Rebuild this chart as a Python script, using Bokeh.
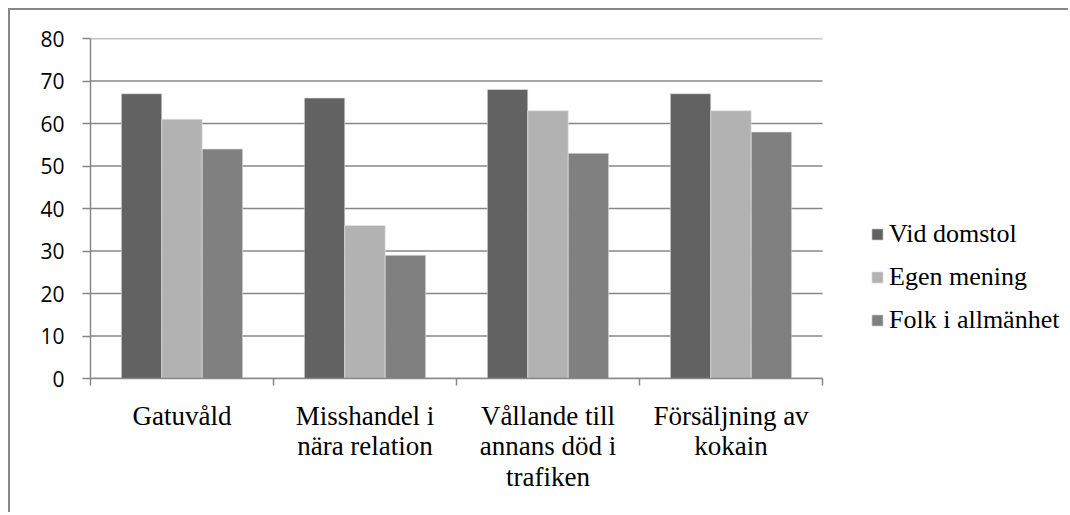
import numpy as np
from bokeh.plotting import figure
from bokeh.models import (ColumnDataSource, FixedTicker, Range1d, Legend, LegendItem,
                          LinearAxis)
from bokeh.transform import dodge
from bokeh.embed import file_html
from bokeh.resources import INLINE

categories = ["Gatuvåld", "Misshandel i\nnära relation", "Vållande till\nannans död i\ntrafiken",
              "Försäljning av\nkokain"]
vid_domstol = [67, 66, 68, 67]
egen_mening = [61, 36, 63, 63]
folk_i_allmanhet = [54, 29, 53, 58]
series_names = ["Vid domstol", "Egen mening", "Folk i allmänhet"]
colors = ["#626262", "#b2b2b2", "#808080"]
y_ticks = [0, 10, 20, 30, 40, 50, 60, 70, 80]

n = len(categories)
xs = np.arange(n) + 0.5
src = ColumnDataSource(dict(x=xs, a=vid_domstol, b=egen_mening, c=folk_i_allmanhet))

frame_w = 980            # frame spans to the right edge; bars occupy the first 732 px
plot_w = 732
x_end = n * frame_w / plot_w

p = figure(width=1060, height=504, output_backend="svg", toolbar_location=None,
           x_range=Range1d(0, x_end), y_range=Range1d(0, 80),
           min_border_left=80, min_border_top=28, min_border_right=0, min_border_bottom=136,
           x_axis_type=None)
p.styles = {"margin-left": "8px", "margin-top": "8px",
            "border-top": "2px solid #878787", "border-left": "2px solid #878787"}
p.outline_line_color = None
p.background_fill_color = "white"
p.border_fill_color = "white"
p.xgrid.grid_line_color = None
p.ygrid.grid_line_color = None

# horizontal gridlines limited to the category area
p.segment(x0=0, x1=n, y0=y_ticks, y1=y_ticks, line_color="#878787", line_width=1.5)

bw = 0.221
renderers = []
for col, off, color in zip(["a", "b", "c"], [-bw, 0, bw], colors):
    r = p.vbar(x=dodge("x", off), top=col, width=bw, bottom=0, source=src,
               fill_color=color, line_color="#e6e6e6", line_width=0.6)
    renderers.append(r)

# y axis
p.yaxis.ticker = FixedTicker(ticks=y_ticks)
p.yaxis.axis_line_color = "#878787"
p.yaxis.axis_line_width = 1.5
p.yaxis.major_tick_line_color = "#878787"
p.yaxis.major_tick_line_width = 1.5
p.yaxis.major_tick_out = 8
p.yaxis.major_tick_in = 0
p.yaxis.minor_tick_line_color = None
p.yaxis.major_label_text_font = "Open Sans"
p.yaxis.major_label_text_font_size = "21px"
p.yaxis.major_label_text_color = "black"
p.yaxis.major_label_standoff = 18

# x axis
xaxis = LinearAxis(ticker=FixedTicker(ticks=list(xs), minor_ticks=list(range(n + 1))),
                   bounds=(0, n))
xaxis.major_label_overrides = {float(x): c for x, c in zip(xs, categories)}
xaxis.axis_line_color = "#878787"
xaxis.axis_line_width = 1.5
xaxis.major_tick_line_color = None
xaxis.minor_tick_line_color = "#878787"
xaxis.minor_tick_line_width = 1.5
xaxis.minor_tick_out = 7
xaxis.minor_tick_in = 0
xaxis.major_label_text_font = "Liberation Serif"
xaxis.major_label_text_font_size = "27px"
xaxis.major_label_text_color = "black"
xaxis.major_label_standoff = 15
xaxis.major_label_text_line_height = 1.02
p.add_layout(xaxis, "below")

legend = Legend(items=[LegendItem(label=nm, renderers=[r]) for nm, r in zip(series_names, renderers)],
                location=(780, 43), border_line_color=None, background_fill_alpha=0,
                label_text_font="Liberation Serif", label_text_font_size="26px",
                label_text_color="black", glyph_width=14, glyph_height=14,
                label_standoff=5, spacing=13, padding=0, margin=0)
p.add_layout(legend, "center")

open("out.html", "w").write(file_html(p, INLINE))
